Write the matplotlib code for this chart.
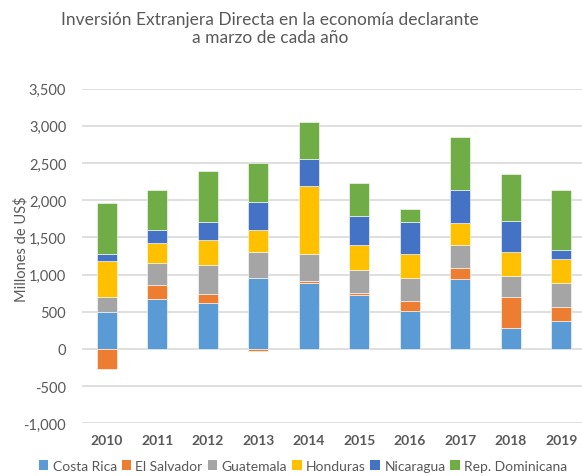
import numpy as np
import matplotlib.pyplot as plt
from matplotlib.patches import Patch

# datos (millones de US$)
years = ['2010', '2011', '2012', '2013', '2014', '2015', '2016', '2017', '2018', '2019']
countries = ['Costa Rica', 'El Salvador', 'Guatemala', 'Honduras', 'Nicaragua', 'Rep. Dominicana']
costa_rica = [490, 668, 614, 954, 883, 726, 516, 937, 282, 376]
el_salvador = [-273, 188, 125, -28, 23, 23, 129, 144, 409, 184]
guatemala = [210, 300, 390, 350, 367, 318, 309, 309, 290, 332]
honduras = [475, 274, 336, 291, 918, 323, 319, 300, 323, 314]
nicaragua = [100, 165, 242, 373, 359, 403, 434, 452, 416, 125]
rep_dominicana = [680, 547, 681, 532, 501, 438, 167, 708, 632, 802]
colors = ['#5B9BD5', '#ED7D31', '#A5A5A5', '#FFC000', '#4472C4', '#70AD47']

series = [costa_rica, el_salvador, guatemala, honduras, nicaragua, rep_dominicana]

plt.rcParams['font.family'] = ['Lato', 'DejaVu Sans']
gray = '#595959'

fig = plt.figure(figsize=(5.82, 4.77), dpi=100)
ax = fig.add_axes([81.5 / 582, 1 - 424.3 / 477, 505 / 582, (424.3 - 89.5) / 477])

x = np.arange(len(years))
pos_base = np.zeros(len(years))
neg_base = np.zeros(len(years))
for vals, c in zip(series, colors):
    v = np.array(vals, dtype=float)
    bottom = np.where(v >= 0, pos_base, neg_base)
    ax.bar(x, v, width=0.4, bottom=bottom, color=c, edgecolor='white', linewidth=0.4, zorder=3)
    pos_base += np.where(v >= 0, v, 0)
    neg_base += np.where(v < 0, v, 0)

ax.set_xlim(-0.5, len(years) - 0.5)
ax.set_ylim(-1000, 3500)
ax.set_yticks(np.arange(-1000, 3501, 500))
ax.set_yticklabels([f'{t:,}' for t in range(-1000, 3501, 500)])
ax.set_xticks(x)
ax.set_xticklabels(years, fontweight='bold')
ax.tick_params(axis='y', length=0, pad=11, labelsize=10.5, labelcolor=gray)
ax.tick_params(axis='x', length=0, pad=8, labelsize=10, labelcolor=gray)
ax.grid(axis='y', color='#D9D9D9', linewidth=1.2, zorder=0)
for s in ax.spines.values():
    s.set_visible(False)

fig.text(21 / 582, 1 - 249 / 477, 'Millones de US$', rotation=90, ha='center', va='center',
         fontsize=10.5, color=gray)

fig.text(270 / 582, 1 - 29 / 477, 'Inversión Extranjera Directa en la economía declarante\na marzo de cada año',
         ha='center', va='center', fontsize=12.5, color=gray, linespacing=1.2)

handles = [Patch(facecolor=c, edgecolor='none') for c in colors]
fig.legend(handles, countries, loc='center', bbox_to_anchor=(303 / 582, 1 - 467 / 477), ncol=6,
           frameon=False, fontsize=10, labelcolor=gray, handlelength=0.7, handleheight=0.7,
           handletextpad=0.3, columnspacing=0.35, borderpad=0, borderaxespad=0)

fig.savefig('out.png', dpi=100)
